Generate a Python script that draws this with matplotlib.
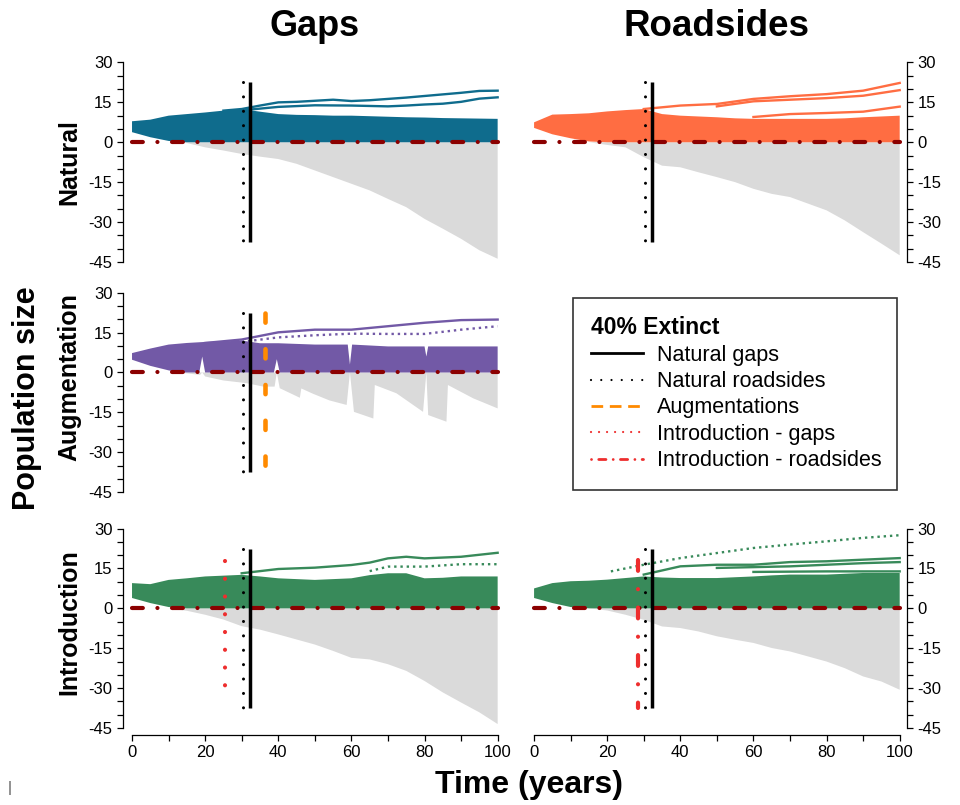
import matplotlib
matplotlib.use("Agg")
import matplotlib.pyplot as plt
from matplotlib.lines import Line2D

plt.rcParams['font.family'] = ['Liberation Sans', 'DejaVu Sans']
plt.rcParams['axes.unicode_minus'] = False

# ------------------------------------------------------------------ data
years = [0, 5, 10, 15, 20, 25, 30, 35, 40, 45, 50, 55, 60, 65, 70, 75, 80, 85, 90, 95, 100]
y_major = [-45, -30, -15, 0, 15, 30]
y_labels = ['-45', '-30', '-15', '0', '15', '30']
x_major = [0, 20, 40, 60, 80, 100]
x_labels = ['0', '20', '40', '60', '80', '100']

# years at which 40% of populations are extinct
ext_nat_gaps = 32.3
ext_nat_roads = 30.4
ext_augment = 36.3
ext_intro_gaps = 25.3
ext_intro_roads = 28.3

# Natural - gaps
ng_top = [7.9, 8.5, 10, 10.6, 11.2, 11.9, 12.5, 11.5, 10.6, 10.3, 10.2, 10, 10, 9.8, 9.6, 9.4, 9.3, 9.1, 9, 8.9, 8.8]
ng_low = [3.8, 1.9, 0.5, 0, 0, 0, 0, 0, 0, 0, 0, 0, 0, 0, 0, 0, 0, 0, 0, 0, 0]
ng_grey = [0, 0, 0, -0.3, -1.9, -3.1, -4.4, -5.4, -6.3, -8.1, -10.6, -13.1, -15.6, -18.1, -21.3, -24.4, -28.8, -32.5, -36.3, -40.6, -43.8]
ng_l1_t = [25, 30, 35, 40, 45, 50, 55, 60, 65, 70, 75, 80, 85, 90, 95, 100]
ng_l1_v = [11.9, 12.5, 13.8, 15, 15.2, 15.6, 16, 15.5, 15.8, 16.3, 16.8, 17.4, 18, 18.6, 19.3, 19.4]
ng_l2_t = [30, 40, 50, 60, 70, 75, 80, 85, 90, 95, 100]
ng_l2_v = [12, 13.3, 13.9, 13.8, 13.5, 13.8, 14.2, 14.5, 15.2, 16.4, 16.9]

# Natural - roadsides
nr_top = [7.5, 10.4, 10.6, 10.9, 11.6, 12.1, 12.5, 10.6, 10, 9.7, 9.4, 9, 8.8, 8.8, 8.8, 8.8, 8.8, 9, 9.4, 9.7, 10]
nr_low = [5.4, 3, 1.5, 0.3, 0, 0, 0, 0, 0, 0, 0, 0, 0, 0, 0, 0, 0, 0, 0, 0, 0]
nr_grey = [0, 0, 0, 0, -1, -1.9, -5.6, -8.8, -9.4, -11.3, -13.1, -15, -17.5, -19.4, -20.6, -23.1, -25.6, -29.4, -33.8, -38.1, -42.5]
nr_l1_t = [30, 40, 50, 60, 70, 80, 90, 100]
nr_l1_v = [12.5, 13.8, 14.4, 16.3, 17.3, 18.1, 19.4, 22.3]
nr_l2_t = [50, 60, 70, 80, 90, 100]
nr_l2_v = [13.5, 15.4, 16, 16.6, 17.5, 19.6]
nr_l3_t = [60, 70, 80, 90, 100]
nr_l3_v = [9.5, 10.6, 11, 11.5, 13.4]

# Augmentation (gaps)
au_top_t = [0, 5, 10, 15, 20, 25, 30, 35, 40, 50, 59.0, 59.6, 60.2, 70, 80.0, 80.5, 81.0, 90, 100]
au_top_v = [7.3, 9, 10.5, 11.1, 11.5, 11.7, 12, 11, 11, 10.5, 10.5, 3, 10.5, 9.8, 9.8, 6, 9.8, 9.8, 9.8]
au_low_t = [0, 5, 10, 13, 18.4, 19.2, 20.0, 38.8, 39.6, 40.4, 100]
au_low_v = [4.8, 2.5, 0.8, 0, 0, 6, 0, 0, 5, 0, 0]
au_grey_t = [13, 18.6, 19.2, 20, 25, 31.3, 35.9, 39, 39.6, 40.4, 45.9, 46.3, 49.5, 54, 58.7, 59.6,
             60.7, 66, 66.4, 72.3, 79.6, 80.5, 81, 86, 86.4, 93.3, 100]
au_grey_v = [0, -0.9, 0, -1.5, -3, -4, -5.3, -5.3, 0, -5.9, -9.5, -6, -8, -10.5, -12.2, 0,
             -14.8, -17.3, -4.7, -7.8, -14.8, 0, -16, -18.5, -4.7, -9.7, -13.5]
au_l1_t = [20, 30, 40, 50, 60, 70, 80, 90, 100]
au_l1_v = [11.1, 12.4, 15.1, 16.1, 16.1, 17.4, 18.7, 19.7, 19.9]
au_l2_t = [30, 40, 50, 60, 70, 80, 90, 100]
au_l2_v = [11.5, 13.2, 14, 14.6, 14.5, 14.5, 16.1, 17.4]

# Introduction - gaps
ig_top = [9.5, 9.1, 10.7, 11.3, 12, 12.3, 12.6, 12, 11.3, 11, 10.7, 11, 11.3, 12.5, 13.2, 13.2, 11.3, 11.5, 12, 12, 12]
ig_low = [3.9, 2, 0.5, 0, 0, 0, 0, 0, 0, 0, 0, 0, 0, 0, 0, 0, 0, 0, 0, 0, 0]
ig_grey = [0, 0, 0, -0.9, -2.4, -4.2, -6.7, -8, -9.8, -11.7, -13.6, -16, -18.6, -19.2, -21, -23.5, -27.3, -31.6, -35.4, -39.1, -43.5]
ig_l1_t = [30, 40, 50, 60, 65, 70, 75, 80, 90, 100]
ig_l1_v = [13.2, 14.8, 15.3, 16.3, 17.2, 18.8, 19.4, 18.8, 19.4, 20.9]
ig_l2_t = [65, 70, 80, 90, 100]
ig_l2_v = [14, 15.7, 15.7, 16.6, 16.6]

# Introduction - roadsides
ir_top = [7.5, 9.5, 10.2, 10.4, 10.8, 11.4, 12, 11.6, 11.4, 11.4, 11.4, 11.7, 12, 12.4, 12.7, 12.7, 12.7, 13, 13.3, 13.3, 13.3]
ir_low = [3.9, 2, 0.5, 0, 0, 0, 0, 0, 0, 0, 0, 0, 0, 0, 0, 0, 0, 0, 0, 0, 0]
ir_grey = [0, 0, 0, 0, -0.8, -2.4, -4.3, -6.8, -7.4, -8.7, -10.5, -11.8, -13, -14.9, -16.2, -18.1, -20, -22.5, -25.6, -27.5, -30.6]
ir_l1_t = [21, 30, 40, 50, 60, 70, 80, 90, 100]
ir_l1_v = [13.9, 16.4, 18.9, 20.8, 22.7, 24, 25.2, 26.5, 27.5]
ir_l2_t = [30, 40, 50, 60, 70, 80, 90, 100]
ir_l2_v = [12.7, 15.8, 16.4, 16.4, 17.4, 17.7, 18.3, 18.9]
ir_l3_t = [50, 70, 90, 100]
ir_l3_v = [15.2, 15.8, 17, 17.4]
ir_l4_t = [60, 80, 100]
ir_l4_v = [13.7, 13.9, 13.9]

# ------------------------------------------------------------------ style
C_TEAL = '#0F6C8D'
C_CORAL = '#FF6D42'
C_PURPLE = '#7259A6'
C_GREEN = '#388A5A'
C_GREY = '#DADADA'
C_DARKRED = '#8B0000'
C_ORANGE = '#FF8A00'
C_RED = '#EE2E2E'

fig = plt.figure(figsize=(9.6, 8.05), dpi=100)
W, H = 960.0, 805.0
col_left = [0.128, 0.5468]
row_bottom = [0.666, 0.380, 0.087]
AX_W, AX_H = 0.398, 0.263


def make_ax(r, c):
    ax = fig.add_axes([col_left[c], row_bottom[r], AX_W, AX_H])
    ax.set_xlim(-2.5, 102)
    ax.set_ylim(-47.6, 32)
    for s in ax.spines.values():
        s.set_visible(False)
    side = 'left' if c == 0 else 'right'
    sp = ax.spines[side]
    sp.set_visible(True)
    sp.set_bounds(y_major[0], y_major[-1])
    sp.set_linewidth(0.9)
    ax.set_yticks(y_major)
    ax.set_yticklabels(y_labels)
    ax.set_yticks(list(range(-45, 31, 5)), minor=True)
    ax.tick_params(axis='y', which='both', direction='out', length=4.5, width=0.9,
                   labelsize=12, pad=3, left=(c == 0), right=(c == 1),
                   labelleft=(c == 0), labelright=(c == 1))
    if r == 2:
        spb = ax.spines['bottom']
        spb.set_visible(True)
        spb.set_bounds(0, 100)
        spb.set_linewidth(0.9)
        ax.set_xticks(x_major)
        ax.set_xticklabels(x_labels)
        ax.set_xticks(list(range(0, 101, 10)), minor=True)
        ax.tick_params(axis='x', which='both', direction='out', length=4.5, width=0.9,
                       labelsize=12, pad=3)
    else:
        ax.tick_params(axis='x', which='both', bottom=False, labelbottom=False)
    ax.patch.set_alpha(0)
    return ax


def band(ax, t_top, v_top, t_low, v_low, grey_t, grey_v, color, lines):
    ax.fill(list(grey_t) + list(grey_t[::-1]), list(grey_v) + [0] * len(grey_t),
            color=C_GREY, lw=0, zorder=1)
    ax.fill(list(t_top) + list(t_low[::-1]), list(v_top) + list(v_low[::-1]),
            color=color, lw=0, zorder=2)
    for lt, lv, ls in lines:
        ax.plot(lt, lv, color=color, lw=1.7, ls=ls, zorder=3)
    ax.plot([years[0], years[-1]], [0, 0], color=C_DARKRED, lw=3,
            linestyle=(0, (2.6, 3.5, 0.01, 3.5)), dash_capstyle='round', zorder=4)


def black_markers(ax):
    ax.plot([ext_nat_roads] * 2, [22.5, -37.5], color='black', lw=2.2,
            linestyle=(0, (0.01, 4.7)), dash_capstyle='round', zorder=5)
    ax.plot([ext_nat_gaps] * 2, [22.5, -37.5], color='black', lw=2.5,
            solid_capstyle='butt', zorder=5)


# Natural gaps
ax = make_ax(0, 0)
band(ax, years, ng_top, years, ng_low, years, ng_grey, C_TEAL,
     [(ng_l1_t, ng_l1_v, '-'), (ng_l2_t, ng_l2_v, '-')])
black_markers(ax)

# Natural roadsides
ax = make_ax(0, 1)
band(ax, years, nr_top, years, nr_low, years, nr_grey, C_CORAL,
     [(nr_l1_t, nr_l1_v, '-'), (nr_l2_t, nr_l2_v, '-'), (nr_l3_t, nr_l3_v, '-')])
black_markers(ax)

# Augmentation
ax = make_ax(1, 0)
band(ax, au_top_t, au_top_v, au_low_t, au_low_v, au_grey_t, au_grey_v, C_PURPLE,
     [(au_l1_t, au_l1_v, '-'), (au_l2_t, au_l2_v, ':')])
black_markers(ax)
ax.plot([ext_augment] * 2, [22.4, -36.0], color=C_ORANGE, lw=3.3,
        linestyle=(0, (2.0, 5.8)), dash_capstyle='round', zorder=5)

# Introduction gaps
ax = make_ax(2, 0)
band(ax, years, ig_top, years, ig_low, years, ig_grey, C_GREEN,
     [(ig_l1_t, ig_l1_v, '-'), (ig_l2_t, ig_l2_v, ':')])
ax.plot([ext_intro_gaps] * 2, [17.8, -35.1], color=C_RED, lw=3,
        linestyle=(0, (0.01, 4.25)), dash_capstyle='round', zorder=5)
black_markers(ax)

# Introduction roadsides
ax = make_ax(2, 1)
band(ax, years, ir_top, years, ir_low, years, ir_grey, C_GREEN,
     [(ir_l1_t, ir_l1_v, ':'), (ir_l2_t, ir_l2_v, '-'), (ir_l3_t, ir_l3_v, '-'),
      (ir_l4_t, ir_l4_v, '-')])
ax.plot([ext_intro_roads] * 2, [18.3, -37.5], color=C_RED, lw=3,
        linestyle=(0, (2.6, 4.4, 0.01, 4.4)), dash_capstyle='round', zorder=5)
black_markers(ax)

# ------------------------------------------------------------------ legend
handles = [
    Line2D([], [], color='black', lw=2),
    Line2D([], [], color='black', lw=1.6, linestyle=(0, (0.01, 4.6)), dash_capstyle='round'),
    Line2D([], [], color=C_ORANGE, lw=2, linestyle=(0, (4.2, 2.4))),
    Line2D([], [], color=C_RED, lw=1.6, linestyle=(0, (0.01, 3.6)), dash_capstyle='round'),
    Line2D([], [], color=C_RED, lw=2, linestyle=(0, (0.01, 2.6, 2.6, 2.6)), dash_capstyle='round'),
]
labels = ['Natural gaps', 'Natural roadsides', 'Augmentations',
          'Introduction - gaps', 'Introduction - roadsides']
leg = fig.legend(handles, labels, loc='upper left',
                 bbox_to_anchor=(573 / W, 1 - 298 / H, 324 / W, 0.0),
                 bbox_transform=fig.transFigure, mode='expand', borderaxespad=0,
                 title='40% Extinct', alignment='left',
                 title_fontproperties={'weight': 'bold', 'size': 16.5},
                 fontsize=15.5, handlelength=2.4, handletextpad=0.65,
                 labelspacing=0.25, borderpad=0.85, fancybox=False, frameon=True)
leg.get_frame().set_edgecolor('black')
leg.get_frame().set_linewidth(1.2)

# ------------------------------------------------------------------ text
fig.text(315 / W, 1 - 27 / H, 'Gaps', ha='center', va='center', fontsize=26, fontweight='bold')
fig.text(716 / W, 1 - 27 / H, 'Roadsides', ha='center', va='center', fontsize=26.5, fontweight='bold')
fig.text(69 / W, 1 - 162 / H, 'Natural', rotation=90, ha='center', va='center',
         fontsize=18, fontweight='bold')
fig.text(69 / W, 1 - 377 / H, 'Augmentation', rotation=90, ha='center', va='center',
         fontsize=18, fontweight='bold')
fig.text(69 / W, 1 - 622 / H, 'Introduction', rotation=90, ha='center', va='center',
         fontsize=18, fontweight='bold')
fig.text(27 / W, 1 - 398 / H, 'Population size', rotation=90, ha='center', va='center',
         fontsize=22, fontweight='bold')
fig.text(529 / W, 1 - 785 / H, 'Time (years)', ha='center', va='center',
         fontsize=23, fontweight='bold')
fig.text(10 / W, 1 - 788 / H, '|', ha='center', va='center', fontsize=11, color='#555555')

fig.savefig('out.png', dpi=100)
